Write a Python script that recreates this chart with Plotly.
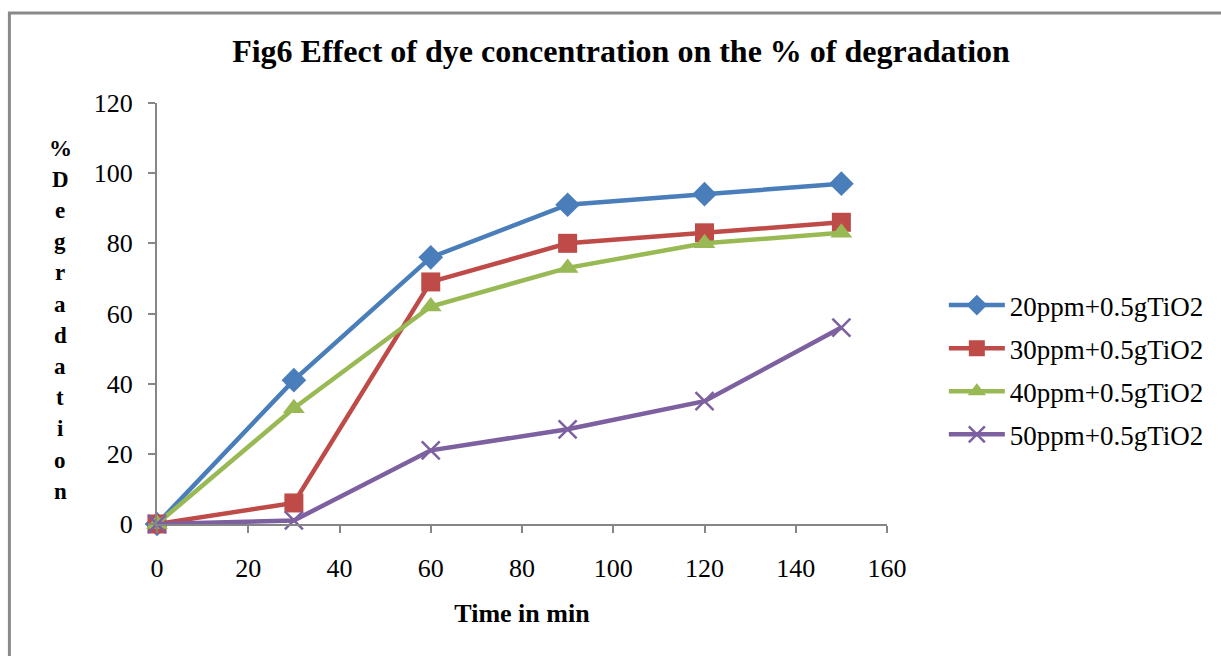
import plotly.graph_objects as go

time_min = [0, 30, 60, 90, 120, 150]
s20 = [0, 41, 76, 91, 94, 97]
s30 = [0, 6, 69, 80, 83, 86]
s40 = [0, 33, 62, 73, 80, 83]
s50 = [0, 1, 21, 27, 35, 56]
names = ["20ppm+0.5gTiO2", "30ppm+0.5gTiO2", "40ppm+0.5gTiO2", "50ppm+0.5gTiO2"]
title_text = "Fig6 Effect of dye concentration on the % of degradation"
x_title = "Time in min"
y_title = "%Degradation"

FONT = "Liberation Serif, Times New Roman, serif"
colors = ["#4A7EBB", "#BE4B48", "#98B954", "#7D60A0"]
symbols = ["diamond", "square", "triangle-up", "x-thin"]
sizes = [19, 19, 19, 18]

fig = go.Figure()
for i, (nm, ys) in enumerate(zip(names, [s20, s30, s40, s50])):
    marker = dict(symbol=symbols[i], size=sizes[i], color=colors[i])
    if symbols[i] == "x-thin":
        marker["line"] = dict(color=colors[i], width=2.5)
    fig.add_trace(go.Scatter(
        x=time_min, y=ys, name=nm, mode="lines+markers",
        line=dict(color=colors[i], width=4.5),
        marker=marker, cliponaxis=False, legendgroup=f"g{i}",
    ))

W, H = 1221, 656
L, R, T, B = 157, 889, 103, 524
fig.update_layout(
    width=W, height=H,
    margin=dict(l=L, r=W - R, t=T, b=H - B),
    paper_bgcolor="white", plot_bgcolor="white",
    font=dict(family=FONT, color="black", size=26),
    title=dict(text=f"<b>{title_text}</b>", x=621 / W, xanchor="center",
               y=1 - 51 / H, yanchor="middle", font=dict(size=32, family=FONT)),
    showlegend=True,
    legend=dict(x=(946 - L) / (R - L), xanchor="left", y=(524 - 370) / (B - T), yanchor="middle",
                font=dict(size=27, family=FONT), tracegroupgap=5, traceorder="grouped",
                bgcolor="rgba(0,0,0,0)", itemwidth=56),
)
fig.update_xaxes(range=[0, 160], dtick=20, tick0=0, showgrid=False, zeroline=False,
                 showline=True, linecolor="#868686", linewidth=2,
                 ticks="outside", ticklen=7, tickcolor="#868686", tickwidth=2,
                 ticklabelstandoff=13,
                 title=dict(text=f"<b>{x_title}</b>", font=dict(size=26, family=FONT), standoff=22))
fig.update_yaxes(range=[0, 120], dtick=20, tick0=0, showgrid=False, zeroline=False,
                 showline=True, linecolor="#868686", linewidth=2,
                 ticks="outside", ticklen=7, tickcolor="#868686", tickwidth=2,
                 ticklabelstandoff=10)

# vertical stacked y-axis title
start_py, step_py = 148, 31.2
for k, ch in enumerate(y_title):
    py = start_py + k * step_py
    fig.add_annotation(text=f"<b>{ch}</b>", xref="paper", yref="paper",
                       x=(60 - L) / (R - L), y=(B - py) / (B - T),
                       xanchor="center", yanchor="middle", showarrow=False,
                       font=dict(size=23, family=FONT, color="black"))

# outer gray frame (extends past right and bottom edges as in the reference)
fig.add_shape(type="rect", xref="paper", yref="paper",
              x0=(9 - L) / (R - L), x1=(1300 - L) / (R - L),
              y0=(B - 760) / (B - T), y1=(B - 13) / (B - T),
              line=dict(color="#8a8a8a", width=3), fillcolor="rgba(0,0,0,0)", layer="below")

fig.write_html("out.html")
